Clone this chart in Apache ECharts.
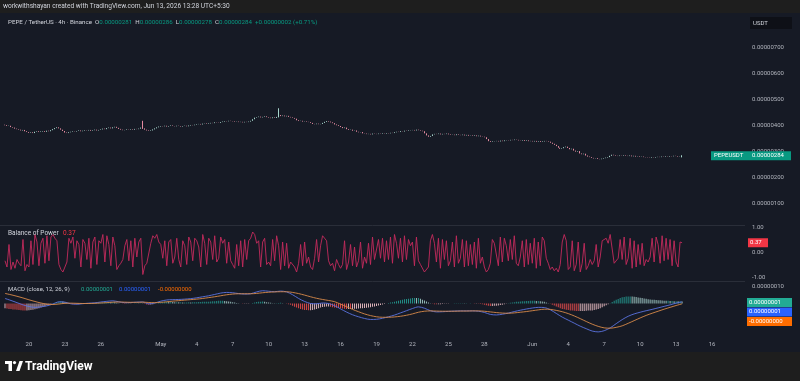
<!DOCTYPE html>
<html>
<head>
<meta charset="utf-8">
<script src="https://cdn.jsdelivr.net/npm/echarts@6/dist/echarts.min.js"></script>
<style>
  html, body { margin: 0; padding: 0; background: #161a25; }
  #chart { width: 800px; height: 381px; }
</style>
</head>
<body>
<div id="chart"></div>
<script>
// PEPE/USDT 4h candles, 2026-04-18 00:00 .. 2026-06-13 12:00 (UTC), prices in 1e-8 USDT
const firstOpen = 403
const closes = [
  401,398,399,394,392,388, 386,384,381,383,378,375, 372,374,371,376,378,375, 377,379,376,380,378,382,
  386,390,393,389,384,379, 373,371,374,376,378,377, 379,381,378,380,382,381, 383,380,382,384,381,383,
  385,388,386,390,392,389, 393,395,391,387,384,382, 383,385,384,386,384,387, 386,388,392,389,384,381,
  379,381,385,389,393,396, 398,397,399,396,398,400, 398,397,399,398,396,398, 399,397,400,402,401,403,
  405,406,404,407,408,406, 408,410,409,412,411,410, 413,415,417,416,418,417, 416,414,415,413,414,412,
  414,413,415,418,424,430, 432,434,431,433,435,432, 430,428,431,429,433,440, 436,438,435,437,433,431,
  429,426,420,417,418,415, 416,414,413,410,406,405, 407,405,406,410,414,417, 415,412,409,404,401,398,
  394,390,392,386,383,384, 380,381,376,374,375,370, 369,367,368,366,369,368, 367,369,368,370,369,371,
  370,372,371,374,376,375, 378,377,380,379,381,382, 383,381,384,382,380,378, 370,362,357,360,366,368,
  367,369,366,368,367,369, 366,364,365,363,366,364, 363,365,362,364,361,362, 360,362,359,361,358,357,
  355,348,340,337,339,340, 341,339,342,340,343,344, 343,345,344,346,345,343, 342,344,341,343,340,341,
  339,341,338,340,337,339, 341,340,338,334,330,326, 321,315,311,313,317,319, 314,309,311,304,300,302,
  293,290,292,285,281,279, 276,274,275,272,271,273, 275,277,279,284,288,286, 284,283,285,284,286,284,
  283,285,282,284,281,282, 280,281,279,278,277,276, 278,277,279,280,279,281, 280,282,281,283,282,284,
  283,281,282,284
]
// candles whose wicks stand out: [index, low, high]
const wicks = [[69, 387, 418], [137, 431, 466]]
// last candle as printed in the legend: open, high, low, close
const lastOHLC = [281, 286, 278, 284]

// Balance of Power x100, one per candle
const bop = [
  -35,-60,30,-70,-40,-65, -30,-45,-55,50,-75,-50, -60,45,-50,70,40,-55, 35,55,-45,65,-35,60,
  70,55,45,-50,-70,-80, -85,-40,55,35,60,-25, 45,30,-60,50,35,-30, 55,-65,40,60,-50,45,
  35,70,-40,65,30,-55, 60,25,-70,-55,-45,-30, 25,50,-35,45,-60,55, -20,40,55,-90,-55,-45,
  -40,35,65,55,70,40, 30,-25,45,-55,40,50, -45,-20,55,-30,-60,45, 25,-50,60,40,-35,55,
  45,20,-60,70,35,-50, 55,40,-30,65,-40,-25, 60,35,50,-45,40,-35, -50,-65,30,-55,45,-60,
  50,-30,45,55,80,70, 35,45,-60,40,55,-50, -40,-55,50,-35,65,25, -70,40,-55,35,-65,-40,
  -35,-60,-80,-45,30,-55, 40,-45,-20,-60,-70,-25, 50,-40,25,65,55,45, -35,-55,-45,-75,-30,-50,
  -65,-50,45,-70,-40,30, -55,20,-60,-35,40,-65, -20,-45,35,-50,60,-30, -35,50,-25,55,-40,45,
  -30,60,-45,70,35,-25, 55,-40,65,-30,50,25, 40,-55,60,-35,-50,-45, -80,-75,-60,45,70,35,
  -40,55,-65,50,-30,45, -55,-35,40,-60,65,-45, -25,50,-60,45,-55,30, -50,40,-65,55,-45,-20,
  -60,-80,-70,-45,50,35, 30,-55,60,-40,55,25, -35,50,-30,65,-45,-55, -20,45,-60,50,-50,35,
  -45,55,-65,40,-55,60, 45,-25,-45,-70,-60,-75, -65,-80,-50,40,70,45, -70,-60,45,-75,-50,40,
  -80,-45,35,-70,-55,-30, -50,-35,30,-60,-20,45, 40,55,35,70,65,-45, -40,-25,50,-30,60,-50,
  -25,55,-65,45,-60,30, -50,35,-55,-30,-40,-20, 55,-40,60,30,-45,65, -35,55,-30,50,-55,45,
  -40,-60,40,37
]

// MACD (12, 26, 9) in 1e-8 USDT, MACD and signal read every 12h, histogram every candle
const macd12h = [
  3.0,1.8,0.5,-0.8,-1.8,-2.3,-2.0,-1.4,-0.3,1.0, 0.8,-0.2,-0.4,-0.1,0.2,0.4,0.9,1.3,1.6,1.0,
  0.5,0.6,0.8,0.9,-0.2,0.3,1.4,2.1,2.3,2.4, 2.6,2.9,3.4,4.0,4.6,5.4,6.2,6.6,6.4,5.9,
  5.6,5.8,6.9,7.6,7.3,7.0,7.4,6.9,5.2,3.0, 1.2,0.0,-0.2,0.3,0.0,-1.3,-3.2,-5.1,-6.7,-7.9,
  -8.9,-9.5,-9.4,-8.8,-7.9,-6.9,-5.6,-4.3,-3.0,-2.0, -2.8,-4.3,-5.0,-4.9,-4.7,-4.5,-4.4,-4.4,-4.4,-4.6,
  -5.3,-6.5,-6.8,-6.4,-5.7,-4.8,-4.0,-3.3,-2.7,-2.3, -2.4,-3.7,-5.9,-8.1,-9.9,-11.7,-13.5,-15.0,-16.4,-16.9,
  -16.2,-14.5,-12.0,-9.6,-7.6,-6.2,-5.2,-4.3,-3.5,-2.6, -1.7,-0.8,0.2,1.0
]
const signal12h = [
  6.0,5.2,4.3,3.3,2.2,1.2,0.3,-0.4,-0.6,-0.3, 0.1,0.2,0.1,0.0,0.0,0.1,0.3,0.5,0.8,0.9,
  0.8,0.7,0.7,0.8,0.6,0.5,0.7,1.0,1.4,1.7, 2.0,2.3,2.6,3.0,3.5,4.0,4.6,5.2,5.6,5.8,
  5.8,5.8,6.0,6.4,6.7,6.9,7.0,7.0,6.6,5.9, 5.0,4.0,3.1,2.4,1.8,1.1,-0.4,-1.9,-3.5,-4.9,
  -6.2,-7.2,-7.9,-8.2,-8.2,-8.0,-7.6,-7.0,-6.2,-5.2, -4.6,-4.4,-4.5,-4.6,-4.6,-4.6,-4.5,-4.5,-4.4,-4.4,
  -4.6,-5.0,-5.4,-5.7,-5.8,-5.6,-5.2,-4.8,-4.3,-3.8, -3.4,-3.5,-4.1,-4.9,-6.0,-7.4,-9.0,-10.7,-12.3,-13.6,
  -14.5,-14.7,-14.2,-13.3,-11.8,-10.2,-8.6,-7.1,-5.8,-4.6, -3.4,-2.3,-1.2,-0.2
]
const hist = [
  -2.8,-3.0,-3.2, -3.3,-3.5,-3.6, -3.7,-3.9,-4.0, -4.1,-4.2,-4.1, -4.0,-3.9,-3.7, -3.4,-3.1,-2.8,
  -2.4,-2.0,-1.6, -1.1,-0.7,-0.3, 0.2,0.5,0.8, 1.1,1.3,1.2, 0.8,0.5,0.2, -0.2,-0.4,-0.5,
  -0.5,-0.4,-0.3, -0.2,-0.1,0.1, 0.1,0.2,0.3, 0.2,0.4,0.5, 0.5,0.6,0.7, 0.8,0.9,0.8,
  0.9,0.7,0.5, 0.2,0.0,-0.2, -0.3,-0.2,-0.2, -0.1,0.0,0.1, 0.2,0.1,0.2, 0.1,-0.3,-0.6,
  -0.8,-0.6,-0.4, -0.2,0.1,0.4, 0.6,0.8,1.0, 1.1,1.0,1.0, 0.9,0.8,0.8, 0.7,0.7,0.6,
  0.6,0.6,0.7, 0.6,0.7,0.8, 0.8,0.9,0.9, 1.0,1.1,1.1, 1.1,1.2,1.3, 1.4,1.5,1.6,
  1.6,1.6,1.5, 1.4,1.2,1.0, 0.8,0.6,0.3, 0.1,0.0,-0.2, -0.2,-0.1,-0.1, 0.0,0.3,0.6,
  0.9,1.0,1.1, 1.2,1.0,0.8, 0.6,0.4,0.2, 0.1,0.2,0.3, 0.4,0.2,0.0, -0.1,-0.4,-0.8,
  -1.4,-1.9,-2.4, -2.9,-3.3,-3.6, -3.8,-3.9,-4.0, -4.0,-3.8,-3.6, -3.3,-2.9,-2.4, -2.1,-1.9,-1.8,
  -1.8,-2.0,-2.2, -2.4,-2.6,-2.7, -2.8,-3.0,-3.1, -3.2,-3.2,-3.3, -3.2,-3.1,-3.1, -3.0,-2.9,-2.8,
  -2.7,-2.6,-2.4, -2.3,-2.0,-1.8, -1.5,-1.2,-0.9, -0.6,-0.3,0.0, 0.3,0.6,0.8, 1.1,1.4,1.7,
  2.0,2.2,2.5, 2.7,2.9,3.0, 3.2,3.3,3.2, 3.2,2.8,2.3, 1.8,1.2,0.6, 0.1,-0.2,-0.4,
  -0.5,-0.4,-0.4, -0.3,-0.2,-0.1, -0.1,0.0,0.0, 0.1,0.1,0.1, 0.1,0.2,0.1, 0.1,0.0,0.1,
  0.0,-0.1,-0.1, -0.2,-0.3,-0.5, -0.7,-1.0,-1.3, -1.5,-1.5,-1.4, -1.4,-1.2,-0.9, -0.7,-0.4,-0.2,
  0.1,0.4,0.6, 0.8,1.0,1.1, 1.2,1.3,1.4, 1.5,1.5,1.6, 1.6,1.6,1.5, 1.5,1.3,1.2,
  1.0,0.6,0.2, -0.2,-0.7,-1.2, -1.8,-2.3,-2.8, -3.2,-3.4,-3.7, -3.9,-4.1,-4.2, -4.3,-4.4,-4.5,
  -4.5,-4.4,-4.4, -4.3,-4.2,-4.2, -4.1,-3.9,-3.6, -3.3,-2.8,-2.3, -1.7,-1.1,-0.4, 0.2,0.9,1.6,
  2.2,2.7,3.2, 3.7,3.9,4.1, 4.2,4.2,4.1, 4.0,3.8,3.6, 3.4,3.2,3.0, 2.8,2.6,2.4,
  2.3,2.2,2.1, 2.0,1.9,1.8, 1.7,1.6,1.6, 1.5,1.5,1.4, 1.4,1.3,1.3, 1.2
]

// time axis tick labels
const tickDays = [
  '2026-04-20','2026-04-23','2026-04-26','2026-05-01','2026-05-04','2026-05-07','2026-05-10',
  '2026-05-13','2026-05-16','2026-05-19','2026-05-22','2026-05-25','2026-05-28','2026-06-01',
  '2026-06-04','2026-06-07','2026-06-10','2026-06-13','2026-06-16'
]
const monthNames = ['Jan','Feb','Mar','Apr','May','Jun','Jul','Aug','Sep','Oct','Nov','Dec']

const FONT = 'Roboto, "Noto Sans", sans-serif'
const TXT = '#b2b5be'
const UP = '#089981', DOWN = '#f23645'

// 4h slots, the axis runs past the last candle like the TradingView pane
const slotCount = 371
const start = Date.UTC(2026, 3, 18)
const pad = n => (n < 10 ? '0' : '') + n
const cats = []
for (let i = 0; i < slotCount; i++) {
  const d = new Date(start + i * 4 * 3600e3)
  cats.push(d.getUTCFullYear() + '-' + pad(d.getUTCMonth() + 1) + '-' + pad(d.getUTCDate()) + ' ' + pad(d.getUTCHours()))
}

const candles = closes.map((c, i) => {
  const o = i ? closes[i - 1] : firstOpen
  return [o, c, Math.min(o, c), Math.max(o, c)]
})
wicks.forEach(([i, lo, hi]) => { candles[i][2] = lo; candles[i][3] = hi })
const last = closes.length - 1
candles[last] = [lastOHLC[0], lastOHLC[3], lastOHLC[2], lastOHLC[1]]

const bopData = bop.map(v => v / 100)
const macdData = new Array(closes.length).fill(null)
const signalData = new Array(closes.length).fill(null)
macd12h.forEach((v, k) => { macdData[k * 3] = v })
signal12h.forEach((v, k) => { signalData[k * 3] = v })

function histColor(i) {
  const h = hist[i], p = i ? hist[i - 1] : h
  if (h >= 0) return h >= p ? '#26a69a' : '#b2dfdb'
  return h < p ? '#ff5252' : '#ffcdd2'
}

const fmt8 = v => (v / 1e8).toFixed(8)

const xAxisBase = {
  type: 'category', data: cats, boundaryGap: true,
  axisLine: { show: false }, axisTick: { show: false }, splitLine: { show: false }
}
const yAxisBase = {
  position: 'right', axisLine: { show: false }, axisTick: { show: false }, splitLine: { show: false },
  axisLabel: { color: TXT, fontSize: 6, fontFamily: FONT, margin: 7 }
}

const chart = echarts.init(document.getElementById('chart'))
chart.setOption({
  animation: false,
  backgroundColor: '#161a25',
  grid: [
    { left: 4, right: 55, top: 21, height: 209 },
    { left: 4, right: 55, top: 227, height: 50 },
    { left: 4, right: 55, top: 286.7, height: 50.4 }
  ],
  xAxis: [
    Object.assign({ gridIndex: 0, axisLabel: { show: false } }, xAxisBase),
    Object.assign({ gridIndex: 1, axisLabel: { show: false } }, xAxisBase),
    Object.assign({
      gridIndex: 2,
      axisLabel: {
        color: TXT, fontSize: 6, fontFamily: FONT, margin: 4,
        interval: (idx, val) => val.slice(11) === '00' && tickDays.includes(val.slice(0, 10)),
        formatter: val => {
          const day = +val.slice(8, 10)
          return day === 1 ? monthNames[+val.slice(5, 7) - 1] : String(day)
        }
      }
    }, xAxisBase)
  ],
  yAxis: [
    Object.assign({}, yAxisBase, {
      gridIndex: 0, min: 0, max: 800, interval: 100,
      axisLabel: Object.assign({}, yAxisBase.axisLabel, { formatter: v => (v === 0 || v === 800) ? '' : fmt8(v) })
    }),
    Object.assign({}, yAxisBase, {
      gridIndex: 1, min: -1, max: 1, interval: 1,
      axisLabel: Object.assign({}, yAxisBase.axisLabel, { formatter: v => v.toFixed(2) })
    }),
    Object.assign({}, yAxisBase, {
      gridIndex: 2, min: -20, max: 10, interval: 10,
      axisLabel: Object.assign({}, yAxisBase.axisLabel, { formatter: v => v === 10 ? fmt8(v) : '' })
    })
  ],
  series: [
    {
      type: 'candlestick', xAxisIndex: 0, yAxisIndex: 0, data: candles, barWidth: 1.2,
      itemStyle: { color: '#3fb6a2', color0: '#f0506e', borderColor: '#a7d6cd', borderColor0: '#e58aa0', borderWidth: 1 }
    },
    {
      type: 'line', xAxisIndex: 1, yAxisIndex: 1, data: bopData, symbol: 'none',
      lineStyle: { color: '#c42a5c', width: 0.9 }
    },
    {
      type: 'bar', xAxisIndex: 2, yAxisIndex: 2, data: hist, barWidth: 1,
      itemStyle: { color: p => histColor(p.dataIndex), opacity: 0.85 }
    },
    {
      type: 'line', xAxisIndex: 2, yAxisIndex: 2, data: macdData, connectNulls: true, smooth: 0.3,
      symbol: 'none', lineStyle: { color: '#5a73e0', width: 0.9 }
    },
    {
      type: 'line', xAxisIndex: 2, yAxisIndex: 2, data: signalData, connectNulls: true, smooth: 0.3,
      symbol: 'none', lineStyle: { color: '#d98a4a', width: 0.9 }
    }
  ]
})

// labels that follow the last values
const priceY = chart.convertToPixel({ yAxisIndex: 0 }, closes[last])
const bopY = chart.convertToPixel({ yAxisIndex: 1 }, bopData[last])
const macdY = chart.convertToPixel({ yAxisIndex: 2 }, hist[last])
const chg = closes[last] - closes[last - 1]
const pct = (chg / closes[last - 1] * 100).toFixed(2)

const text = (x, y, str, color, size, extra) => ({
  type: 'text', x, y, z: 20,
  style: Object.assign({ text: str, fill: color, fontSize: size, fontFamily: FONT, verticalAlign: 'middle' }, extra || {})
})
const tag = (x, y, w, fill, str) => [
  { type: 'rect', z: 19, shape: { x, y: y - 4.5, width: w, height: 9 }, style: { fill } },
  text(x + 2, y, str, '#ffffff', 6)
]
const legendStyle = c => ({ fill: c, fontSize: 6.2, fontFamily: FONT })

chart.setOption({
  graphic: [
    { type: 'rect', z: -1, shape: { x: 0, y: 0, width: 800, height: 13 }, style: { fill: '#1e1e1e' } },
    { type: 'rect', z: -1, shape: { x: 0, y: 352, width: 800, height: 29 }, style: { fill: '#1e1e1e' } },
    { type: 'line', shape: { x1: 0, y1: 225.5, x2: 745, y2: 225.5 }, style: { stroke: '#2a2e39', lineWidth: 1 } },
    { type: 'line', shape: { x1: 0, y1: 281.5, x2: 745, y2: 281.5 }, style: { stroke: '#2a2e39', lineWidth: 1 } },
    text(3, 6.5, 'workwithshayan created with TradingView.com, Jun 13, 2026 13:28 UTC+5:30', '#d1d4dc', 6.6),
    {
      type: 'text', x: 8, y: 22, z: 20,
      style: {
        text: '{t|PEPE / TetherUS · 4h · Binance}  {l|O}{v|' + fmt8(lastOHLC[0]) + '}  {l|H}{v|' + fmt8(lastOHLC[1]) +
          '}  {l|L}{v|' + fmt8(lastOHLC[2]) + '}  {l|C}{v|' + fmt8(lastOHLC[3]) + '}  {v|+' + fmt8(chg) + ' (+' + pct + '%)}',
        fontFamily: FONT, fontSize: 6.2, verticalAlign: 'middle',
        rich: { t: legendStyle('#d1d4dc'), l: legendStyle('#d1d4dc'), v: legendStyle(UP) }
      }
    },
    { type: 'rect', z: 19, shape: { x: 750, y: 17, width: 42, height: 12 }, style: { fill: '#0e1017' } },
    text(753, 23, 'USDT', '#d1d4dc', 6),
    { type: 'rect', z: 19, shape: { x: 711, y: priceY - 4.5, width: 80, height: 9 }, style: { fill: UP } },
    text(714, priceY, 'PEPEUSDT', '#ffffff', 6),
    text(752, priceY, fmt8(closes[last]), '#ffffff', 6),
    text(8, 233, 'Balance of Power', '#d1d4dc', 6.5),
    text(63, 233, bopData[last].toFixed(2), '#f23645', 6.5),
    ...tag(748, bopY, 20, '#f23645', bopData[last].toFixed(2)),
    text(8, 289, 'MACD (close, 12, 26, 9)', '#d1d4dc', 6),
    text(81, 289, fmt8(hist[last]), '#22ab94', 6),
    text(119, 289, fmt8(macd12h[macd12h.length - 1]), '#2962ff', 6),
    text(158, 289, fmt8(signal12h[signal12h.length - 1]), '#ff6d00', 6),
    ...tag(747, macdY + 1, 45, '#22ab94', fmt8(hist[last])),
    ...tag(747, macdY + 10.5, 45, '#2962ff', fmt8(macd12h[macd12h.length - 1])),
    ...tag(747, macdY + 20, 45, '#ff6d00', fmt8(signal12h[signal12h.length - 1])),
    { type: 'rect', z: 20, shape: { x: 5, y: 361, width: 7, height: 3 }, style: { fill: '#ffffff' } },
    { type: 'rect', z: 20, shape: { x: 8.5, y: 361, width: 3.5, height: 10 }, style: { fill: '#ffffff' } },
    { type: 'circle', z: 20, shape: { cx: 14.5, cy: 362.6, r: 1.6 }, style: { fill: '#ffffff' } },
    { type: 'polygon', z: 20, shape: { points: [[16, 371], [19.5, 371], [23, 361], [19.5, 361]] }, style: { fill: '#ffffff' } },
    text(25, 366.5, 'TradingView', '#ffffff', 12, { fontWeight: 'bold' })
  ]
})
</script>
</body>
</html>
